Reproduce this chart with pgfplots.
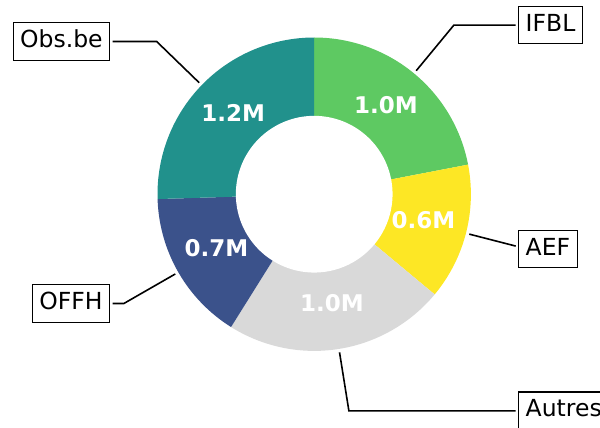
\documentclass[border=0pt]{standalone}
\usepackage{fontspec}
\setmainfont{DejaVu Sans}
\usepackage{pgfplots}
\usepackage{pgfplotstable}
\pgfplotsset{compat=1.18}
\definecolor{cIFBL}{HTML}{5EC962}
\definecolor{cAEF}{HTML}{FDE725}
\definecolor{cAutres}{HTML}{D9D9D9}
\definecolor{cOFFH}{HTML}{3B528B}
\definecolor{cObs}{HTML}{21918C}
\tikzset{
  vlab/.style={text=white, font=\bfseries\fontsize{23}{27}\selectfont, text height=17.5pt, text depth=5.5pt, inner sep=0pt},
  ann/.style={draw=black, line width=1.2pt, fill=white, inner sep=7pt, outer sep=0pt, text height=17.9pt, text depth=5.6pt, font=\fontsize{23.5}{28}\selectfont},
  conn/.style={black, line width=1.6pt}}
\pgfkeys{/pgf/number format/.cd, assume math mode=true, fixed, fixed zerofill, precision=1}

\pgfplotstableread{
name value
IFBL 1.00
AEF 0.64
Autres 1.04
OFFH 0.71
Obs.be 1.16
}\donut

\begin{document}
\begin{tikzpicture}
\pgfplotstablegetelem{0}{value}\of\donut \let\vA\pgfplotsretval
\pgfplotstablegetelem{1}{value}\of\donut \let\vB\pgfplotsretval
\pgfplotstablegetelem{2}{value}\of\donut \let\vC\pgfplotsretval
\pgfplotstablegetelem{3}{value}\of\donut \let\vD\pgfplotsretval
\pgfplotstablegetelem{4}{value}\of\donut \let\vE\pgfplotsretval
\pgfmathsetmacro\tot{\vA+\vB+\vC+\vD+\vE}
\pgfmathsetmacro\aA{90}
\pgfmathsetmacro\aB{\aA-360*\vA/\tot}
\pgfmathsetmacro\aC{\aB-360*\vB/\tot}
\pgfmathsetmacro\aD{\aC-360*\vC/\tot}
\pgfmathsetmacro\aE{\aD-360*\vD/\tot}
\pgfmathsetmacro\aF{\aE-360*\vE/\tot}
\pgfmathsetmacro\mA{(\aA+\aB)/2}
\pgfmathsetmacro\mB{(\aB+\aC)/2}
\pgfmathsetmacro\mC{(\aC+\aD)/2}
\pgfmathsetmacro\mD{(\aD+\aE)/2}
\pgfmathsetmacro\mE{(\aE+\aF)/2}
\pgfmathsetmacro\aefx{1.286}
\pgfmathsetmacro\aefy{\aefx*tan(\mB)}
\path[use as bounding box] (-314.2pt,-233.8pt) rectangle (285.8pt,194.2pt);
\clip (-314.2pt,-233.8pt) rectangle (285.8pt,194.2pt);
\begin{axis}[anchor=origin, at={(0pt,0pt)}, x=156.7pt, y=156.7pt,
  hide axis, clip=false, xmin=-2.1, xmax=1.9, ymin=-1.6, ymax=1.3]
% connectors
\draw[conn] (axis cs:{1.022*cos(\mA)},{1.022*sin(\mA)}) -- (axis cs:{1.4*cos(\mA)},{1.4*sin(\mA)}) -- (axis cs:{1.286},{1.4*sin(\mA)});
\draw[conn] (axis cs:{1.022*cos(\mB)},{1.022*sin(\mB)}) -- (axis cs:{\aefx},{\aefy});
\draw[conn] (axis cs:{1.022*cos(\mC)},{1.022*sin(\mC)}) -- (axis cs:{1.4*cos(\mC)},{1.4*sin(\mC)}) -- (axis cs:{1.286},{1.4*sin(\mC)});
\draw[conn] (axis cs:{1.022*cos(\mD)},{1.022*sin(\mD)}) -- (axis cs:{1.4*cos(\mD)},{1.4*sin(\mD)}) -- (axis cs:{-1.286},{1.4*sin(\mD)});
\draw[conn] (axis cs:{1.022*cos(\mE)},{1.022*sin(\mE)}) -- (axis cs:{1.4*cos(\mE)},{1.4*sin(\mE)}) -- (axis cs:{-1.286},{1.4*sin(\mE)});
\node[ann, anchor=west] at (axis cs:1.3053,{1.4*sin(\mA)}) {IFBL};
\node[ann, anchor=west] at (axis cs:1.3053,{1.4*sin(\mB)}) {AEF};
\node[ann, anchor=west] at (axis cs:1.3053,{1.4*sin(\mC)}) {Autres};
\node[ann, anchor=east] at (axis cs:-1.3053,{1.4*sin(\mD)}) {OFFH};
\node[ann, anchor=east] at (axis cs:-1.3053,{1.4*sin(\mE)}) {Obs.be};
% wedges
\addplot[fill=cIFBL, draw=none, domain=\aB:\aA, samples=80] ({cos(x)},{sin(x)}) -- (axis cs:0,0) -- cycle;
\addplot[fill=cAEF, draw=none, domain=\aC:\aB, samples=60] ({cos(x)},{sin(x)}) -- (axis cs:0,0) -- cycle;
\addplot[fill=cAutres, draw=none, domain=\aD:\aC, samples=80] ({cos(x)},{sin(x)}) -- (axis cs:0,0) -- cycle;
\addplot[fill=cOFFH, draw=none, domain=\aE:\aD, samples=60] ({cos(x)},{sin(x)}) -- (axis cs:0,0) -- cycle;
\addplot[fill=cObs, draw=none, domain=\aF:\aE, samples=90] ({cos(x)},{sin(x)}) -- (axis cs:0,0) -- cycle;
\addplot[fill=white, draw=none, domain=0:360, samples=181] ({0.5*cos(x)},{0.5*sin(x)}) -- cycle;
% value labels
\node[vlab] at (axis cs:{0.72*cos(\mA)},{0.72*sin(\mA)}) {\pgfmathprintnumber{\vA}M};
\node[vlab] at (axis cs:{0.72*cos(\mB)},{0.72*sin(\mB)}) {\pgfmathprintnumber{\vB}M};
\node[vlab] at (axis cs:{0.72*cos(\mC)},{0.72*sin(\mC)}) {\pgfmathprintnumber{\vC}M};
\node[vlab] at (axis cs:{0.72*cos(\mD)},{0.72*sin(\mD)}) {\pgfmathprintnumber{\vD}M};
\node[vlab] at (axis cs:{0.72*cos(\mE)},{0.72*sin(\mE)}) {\pgfmathprintnumber{\vE}M};
\end{axis}
\end{tikzpicture}
\end{document}
